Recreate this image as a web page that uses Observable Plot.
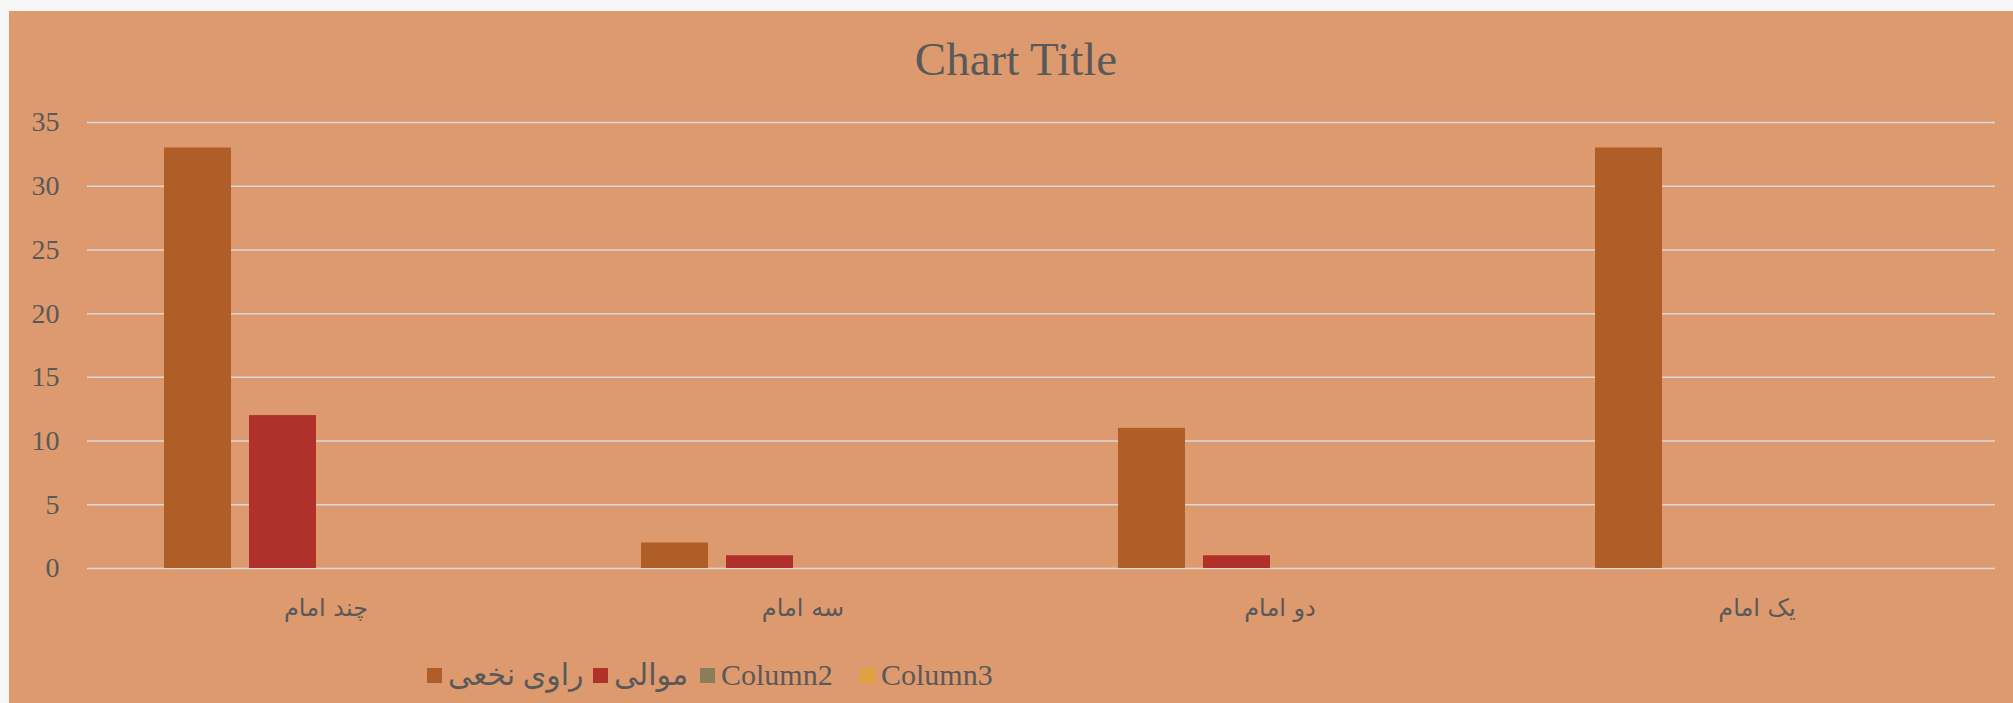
<!DOCTYPE html>
<html>
<head>
<meta charset="utf-8">
<script src="https://cdn.jsdelivr.net/npm/d3@7"></script>
<script src="https://cdn.jsdelivr.net/npm/@observablehq/plot@0.6"></script>
<style>
  html, body { margin: 0; padding: 0; background: #f6f6f6; overflow: hidden; }
  #wrap { position: relative; width: 2013px; height: 703px; }
  #panel { position: absolute; left: 9px; top: 11px; width: 2004px; height: 692px; background: #DE9A6F; }
  #chart { position: absolute; left: 0; top: 0; }
  #title { position: absolute; top: 36px; left: 1016px; transform: translateX(-50%);
    font-family: "Liberation Serif", serif; font-size: 47px; line-height: 46px; color: #595959; white-space: nowrap; }
  #legend { position: absolute; left: 0; top: 660px; width: 2013px; height: 30px;
    font-family: "Liberation Serif", "DejaVu Sans", serif; font-size: 30px; color: #595959; white-space: nowrap; direction: ltr; }
  .sw { position: absolute; top: 8px; width: 15px; height: 15px; }
  .lt { position: absolute; top: 0; height: 30px; line-height: 30px; }
</style>
</head>
<body>
<div id="wrap">
  <div id="panel"></div>
  <div id="chart"></div>
  <div id="title">Chart Title</div>
  <div id="legend"></div>
</div>
<script>
const categories = ["چند امام", "سه امام", "دو امام", "یک امام"];
const seriesNames = ["راوی نخعی", "موالی", "Column2", "Column3"];
const raviNakhai = [33, 2, 11, 33];
const mavali = [12, 1, 1, 0];
const column2 = [0, 0, 0, 0];
const column3 = [0, 0, 0, 0];
const seriesColors = ["#B05E28", "#B0302A", "#8A7D5A", "#E0A040"];
const yTicks = [0, 5, 10, 15, 20, 25, 30, 35];
const legendLefts = [427, 593, 700, 860];

const seriesValues = [raviNakhai, mavali, column2, column3];
const data = [];
categories.forEach((c, i) => {
  seriesNames.forEach((s, j) => data.push({category: c, series: s, value: seriesValues[j][i]}));
});

const chart = Plot.plot({
  width: 2013,
  height: 703,
  marginLeft: 87,
  marginRight: 18,
  marginTop: 122,
  marginBottom: 135,
  style: {background: "transparent", color: "#595959", fontFamily: "'Liberation Serif', 'DejaVu Sans', serif"},
  fx: {domain: categories, padding: 0, label: null, axis: null},
  x: {domain: seriesNames, paddingInner: 0.2093, paddingOuter: 0.878, axis: null},
  y: {domain: [0, 35], axis: null},
  color: {domain: seriesNames, range: seriesColors},
  marks: [
    Plot.ruleY(yTicks, {stroke: "#D9D9D9", strokeWidth: 1.5}),
    Plot.barY(data, {fx: "category", x: "series", y: "value", fill: "series"}),
    Plot.axisY({ticks: yTicks, tickSize: 0, tickPadding: 28, label: null, fontSize: 28, fill: "#595959"}),
    Plot.axisFx({anchor: "bottom", tickSize: 0, tickPadding: 30, label: null, fontSize: 24, fill: "#595959", fontFamily: "'DejaVu Sans', sans-serif"})
  ]
});
document.getElementById("chart").appendChild(chart);

const legend = document.getElementById("legend");
seriesNames.forEach((s, j) => {
  const sw = document.createElement("div");
  sw.className = "sw";
  sw.style.left = legendLefts[j] + "px";
  sw.style.background = seriesColors[j];
  const t = document.createElement("span");
  t.className = "lt";
  t.style.left = (legendLefts[j] + 21) + "px";
  t.textContent = s;
  legend.appendChild(sw);
  legend.appendChild(t);
});
</script>
</body>
</html>
